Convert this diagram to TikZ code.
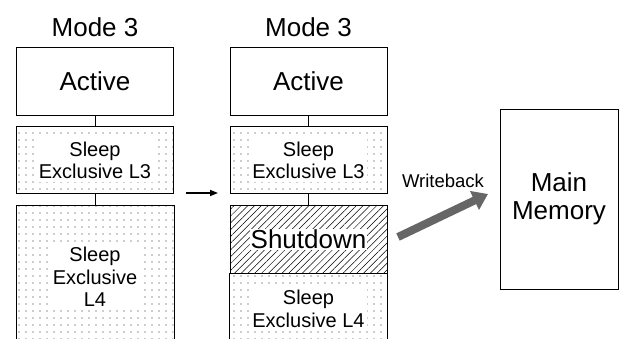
\documentclass[tikz,border=0pt]{standalone}
\usepackage{fontspec}
\setmainfont{Liberation Sans}
\usetikzlibrary{positioning,patterns.meta,arrows.meta}

\tikzset{
  blk/.style={draw, line width=0.9pt, minimum width=157pt, inner sep=0pt},
  dotfill/.style={pattern={Dots[distance=6.5pt, radius=0.7pt]}, pattern color=black!85},
  hatchfill/.style={pattern={Lines[angle=45, distance=4.8pt, line width=0.5pt]}},
  lbl/.style={fill=white, inner sep=2.5pt, align=center},
  big/.style={font=\fontsize{26}{28}\selectfont},
  small/.style={font=\fontsize{20}{22.5}\selectfont},
}

\begin{document}
\begin{tikzpicture}[x=1pt, y=-1pt, >={Triangle[length=8pt,width=6pt]}]
    \useasboundingbox (0,0) rectangle (620,338);

    % cache before
    \node[big] (mode1) at (95,27) {Mode 3};
    \node[blk, big, minimum height=68pt] (act1) at (95,81) {Active};
    \node[blk, dotfill, minimum height=67pt, below=11pt of act1] (l3a) {};
    \node[lbl, small] (l3at) at (l3a) {Sleep\\Exclusive L3};
    \node[blk, draw=none, dotfill, minimum height=134pt, below=11pt of l3a] (l4a) {};
    \draw[line width=0.9pt] (l4a.south west) -- (l4a.north west) -- (l4a.north east) -- (l4a.south east);
    \node[lbl, small] (l4at) at (95,277) {Sleep\\Exclusive\\L4};
    \draw[line width=0.9pt] (act1) -- (l3a);
    \draw[line width=0.9pt] (l3a) -- (l4a.north);

    % transition
    \coordinate (go1) at (186,193);
    \coordinate (go2) at (218,193);
    \draw[->, line width=1.5pt] (go1) -- (go2);

    % cache after
    \node[big] (mode2) at (308.5,27) {Mode 3};
    \node[blk, big, minimum height=68pt] (act2) at (308.5,81) {Active};
    \node[blk, dotfill, minimum height=67pt, below=11pt of act2] (l3b) {};
    \node[lbl, small] (l3bt) at (l3b) {Sleep\\Exclusive L3};
    \node[blk, hatchfill, minimum height=68pt, below=11pt of l3b] (shut) {};
    \node[lbl, big, inner sep=1pt] (shutt) at (shut) {Shutdown};
    \node[blk, draw=none, dotfill, minimum height=66pt, below=0pt of shut] (l4b) {};
    \draw[line width=0.9pt] (l4b.south west) -- (l4b.north west) -- (l4b.north east) -- (l4b.south east);
    \node[lbl, small] (l4bt) at (308.5,309) {Sleep\\Exclusive L4};
    \draw[line width=0.9pt] (act2) -- (l3b);
    \draw[line width=0.9pt] (l3b) -- (shut);

    % writeback to memory
    \node[font=\fontsize{18.5}{20}\selectfont] (wbt) at (443,181) {Writeback};
    \coordinate (wb1) at (398,237);
    \coordinate (wb2) at (488,194);
    \draw[line width=8pt, gray!80!black, -{Triangle[length=15pt,width=20pt]}] (wb1) -- (wb2);
    \node[blk, big, minimum width=118pt, minimum height=180pt, align=center] (mem) at (559,199) {Main\\Memory};
\end{tikzpicture}
\end{document}
